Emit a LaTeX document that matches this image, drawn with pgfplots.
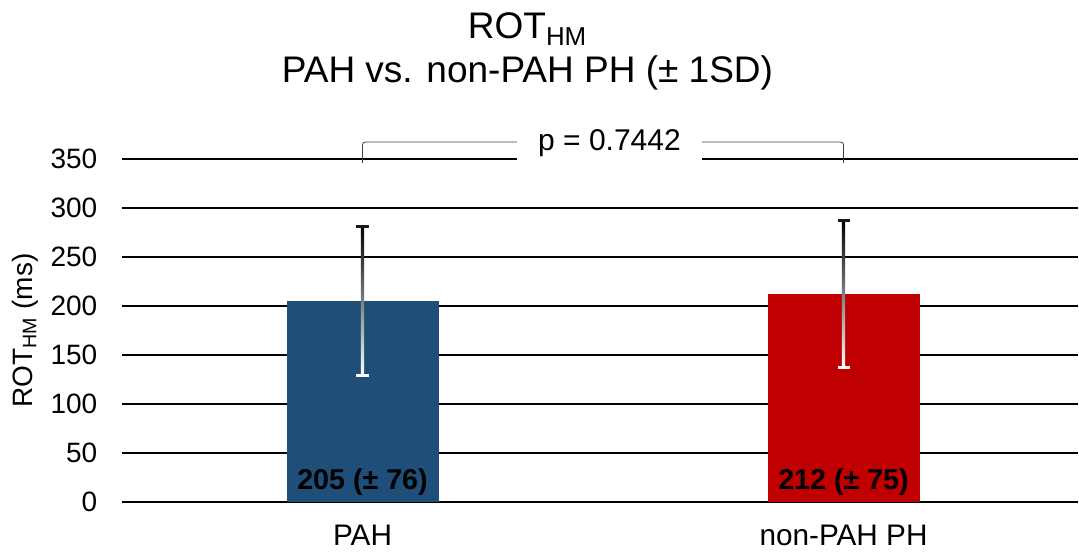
\documentclass[border=0pt]{standalone}
\usepackage{fontspec}
\setmainfont{Liberation Sans}
\usepackage{pgfplots}
\pgfplotsset{compat=1.18}
\definecolor{pahblue}{HTML}{1F4E79}
\definecolor{phred}{HTML}{C00000}
\newcommand{\fnt}{\fontsize{21}{25}\selectfont}
\begin{document}
\begin{tikzpicture}
\path[use as bounding box] (-91.5pt,-37.5pt) rectangle (717.75pt,376.5pt);
\begin{axis}[
  at={(0pt,0pt)}, anchor=south west,
  scale only axis, width=717pt, height=257.25pt,
  xmin=-0.5, xmax=1.4875, ymin=0, ymax=350,
  xtick={0,1}, xticklabels={PAH, non-PAH PH},
  ytick={0,50,...,350},
  ymajorgrids, grid style={black, line width=0.9pt},
  axis line style={draw=none},
  major tick length=0pt,
  tick label style={font=\fnt},
  /pgf/number format/assume math mode=true,
  yticklabel style={xshift=-15pt},
  xticklabel style={font=\fontsize{22.3}{26}\selectfont, inner sep=0pt, yshift=-17pt},
  ylabel={ROT\textsubscript{HM} (ms)},
  every axis y label/.style={at={(axis description cs:-0.1015,0.5)}, rotate=90, anchor=center, font=\fnt},
  clip=false,
]
\addplot[ybar, bar width=0.316, bar shift=0pt, fill=pahblue, draw=none] coordinates {(0,205)};
\addplot[ybar, bar width=0.316, bar shift=0pt, fill=phred, draw=none] coordinates {(1,212)};
% error bars (mean +/- 1SD), shaded black (top) to white (bottom)
\addplot[draw=none, top color=black, bottom color=white] coordinates {(-0.0033,129) (0.0033,129) (0.0033,281) (-0.0033,281)} -- cycle;
\addplot[draw=none, top color=black, bottom color=white] coordinates {(0.9967,137) (1.0033,137) (1.0033,287) (0.9967,287)} -- cycle;
\addplot[black!90, line width=2.2pt] coordinates {(-0.0125,281) (0.0125,281)};
\addplot[white, line width=2.2pt] coordinates {(-0.0125,129) (0.0125,129)};
\addplot[black!90, line width=2.2pt] coordinates {(0.9875,287) (1.0125,287)};
\addplot[white, line width=2.2pt] coordinates {(0.9875,137) (1.0125,137)};
% significance bracket
\draw[black!75, line width=0.6pt, rounded corners=2pt] (axis cs:0,346) -- (axis cs:0,367.3) -- (axis cs:1,367.3) -- (axis cs:1,346);
\node[fill=white, inner xsep=16pt, inner ysep=0pt, minimum height=28pt, font=\fontsize{22.5}{26}\selectfont] at (axis cs:0.5135,366) {p = 0.7442};
% value labels
\node[font=\fontsize{21.5}{25}\selectfont\bfseries] at (axis cs:0,20) {205 (± 76)};
\node[font=\fontsize{21.5}{25}\selectfont\bfseries] at (axis cs:1,20) {212 (± 75)};
\end{axis}
\node[anchor=base, inner sep=0pt, font=\fontsize{27.75}{33}\selectfont] at (304.1pt,347.25pt) {ROT\textsubscript{HM}};
\node[anchor=base, inner sep=0pt, font=\fontsize{27.75}{33}\selectfont] at (304.1pt,314.25pt) {PAH vs. non-PAH PH (± 1SD)};
\end{tikzpicture}
\end{document}
